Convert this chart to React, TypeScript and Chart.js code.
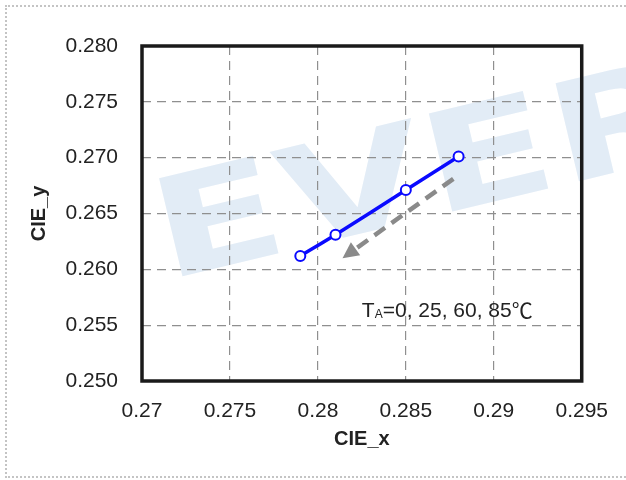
import { useEffect, useRef } from 'react';
import { Chart, registerables } from 'chart.js';

Chart.register(...registerables);

// measured points (CIE_x, CIE_y) for TA = 0, 25, 60, 85 C
const cieX = [0.279, 0.281, 0.285, 0.288];
const cieY = [0.2612, 0.2631, 0.2671, 0.2701];

// trend arrow, start -> tip, in data units
const arrowX = [0.2877, 0.2814];
const arrowY = [0.2681, 0.261];

const xTicks = [0.27, 0.275, 0.28, 0.285, 0.29, 0.295];
const yTicks = [0.25, 0.255, 0.26, 0.265, 0.27, 0.275, 0.28];

const noteAt = [0.2825, 0.2557];
const noteMain = 'T';
const noteSub = 'A';
const noteRest = '=0, 25, 60, 85';
const noteUnit = '℃';

const FONT = '"Liberation Sans", Arial, sans-serif';

const watermark = {
  id: 'watermark',
  beforeDraw(chart: Chart) {
    const ctx = chart.ctx;
    ctx.save();
    ctx.translate(142, 182);
    ctx.rotate(-0.235);
    ctx.scale(1.38, 1);
    ctx.fillStyle = '#e2ecf6';
    ctx.font = `bold 138px "DejaVu Sans", ${FONT}`;
    ctx.textBaseline = 'alphabetic';
    ctx.fillText('EVER', 0, 101);
    ctx.restore();
  }
};

const frame = {
  id: 'frame',
  afterDatasetsDraw(chart: Chart) {
    const { ctx, chartArea: a, scales } = chart;
    const sx = scales.x, sy = scales.y;
    ctx.save();

    // arrow
    const x0 = sx.getPixelForValue(arrowX[0]), y0 = sy.getPixelForValue(arrowY[0]);
    const x1 = sx.getPixelForValue(arrowX[1]), y1 = sy.getPixelForValue(arrowY[1]);
    const len = Math.hypot(x1 - x0, y1 - y0);
    const ux = (x1 - x0) / len, uy = (y1 - y0) / len;
    const head = 16, hw = 8;
    const bx = x1 - ux * head, by = y1 - uy * head;
    ctx.strokeStyle = '#8a8a8a';
    ctx.fillStyle = '#8a8a8a';
    ctx.lineWidth = 4.5;
    ctx.setLineDash([13, 8]);
    ctx.beginPath();
    ctx.moveTo(x0, y0);
    ctx.lineTo(bx, by);
    ctx.stroke();
    ctx.setLineDash([]);
    ctx.beginPath();
    ctx.moveTo(x1, y1);
    ctx.lineTo(bx - uy * hw, by + ux * hw);
    ctx.lineTo(bx + uy * hw, by - ux * hw);
    ctx.closePath();
    ctx.fill();

    // annotation
    let tx = sx.getPixelForValue(noteAt[0]);
    const ty = sy.getPixelForValue(noteAt[1]);
    ctx.fillStyle = '#222';
    ctx.textBaseline = 'alphabetic';
    ctx.textAlign = 'left';
    ctx.font = `21px ${FONT}`;
    ctx.fillText(noteMain, tx, ty);
    tx += ctx.measureText(noteMain).width;
    ctx.font = `12px ${FONT}`;
    ctx.fillText(noteSub, tx, ty + 1);
    tx += ctx.measureText(noteSub).width;
    ctx.font = `21px ${FONT}`;
    ctx.fillText(noteRest, tx, ty);
    tx += ctx.measureText(noteRest).width;
    ctx.font = `21px "Noto Sans CJK SC", ${FONT}`;
    ctx.fillText(noteUnit, tx, ty + 1);

    // plot frame
    ctx.strokeStyle = '#1a1a1a';
    ctx.lineWidth = 3.5;
    ctx.strokeRect(a.left, a.top, a.right - a.left, a.bottom - a.top);
    ctx.restore();
  }
};

export default function App() {
  const canvasRef = useRef<HTMLCanvasElement | null>(null);

  useEffect(() => {
    if (!canvasRef.current) return;
    const grid = {
      color: '#8f8f8f',
      lineWidth: 1.2,
      drawTicks: false
    };
    const chart = new Chart(canvasRef.current, {
      type: 'scatter',
      data: {
        datasets: [
          {
            label: 'CIE',
            data: cieX.map((x, i) => ({ x, y: cieY[i] })),
            showLine: true,
            borderColor: '#0a0aff',
            borderWidth: 3.5,
            tension: 0.3,
            pointRadius: 5,
            pointBorderWidth: 2,
            pointBackgroundColor: '#ffffff',
            pointBorderColor: '#0a0aff'
          }
        ]
      },
      options: {
        responsive: false,
        animation: false,
        layout: { padding: { left: 0, top: 46, right: 44, bottom: 0 } },
        plugins: { legend: { display: false }, tooltip: { enabled: false } },
        scales: {
          x: {
            type: 'linear',
            min: xTicks[0],
            max: xTicks[xTicks.length - 1],
            afterFit: (s: any) => { s.height = 99; },
            afterBuildTicks: (s: any) => { s.ticks = xTicks.map(v => ({ value: v })); },
            ticks: {
              padding: 18,
              color: '#222',
              font: { family: FONT, size: 21 },
              callback: (v: any) => String(Math.round(Number(v) * 1000) / 1000)
            },
            grid,
            border: { display: false, dash: [9, 6] },
            title: {
              display: true,
              text: 'CIE_x',
              color: '#222',
              font: { family: FONT, size: 20, weight: 'bold', lineHeight: 1.2 },
              padding: { top: 0, bottom: 29 }
            }
          },
          y: {
            type: 'linear',
            min: yTicks[0],
            max: yTicks[yTicks.length - 1],
            afterFit: (s: any) => { s.width = 142; },
            afterBuildTicks: (s: any) => { s.ticks = yTicks.map(v => ({ value: v })); },
            ticks: {
              padding: 24,
              color: '#222',
              font: { family: FONT, size: 21 },
              callback: (v: any) => Number(v).toFixed(3)
            },
            grid,
            border: { display: false, dash: [9, 6] },
            title: {
              display: true,
              text: 'CIE_y',
              color: '#222',
              font: { family: FONT, size: 20, weight: 'bold', lineHeight: 1.2 },
              padding: { top: 27, bottom: 0 }
            }
          }
        }
      },
      plugins: [watermark, frame]
    });
    return () => chart.destroy();
  }, []);

  return (
    <div style={{ position: 'absolute', left: 0, top: 0, width: 626, height: 480, overflow: 'hidden', background: '#fff' }}>
      <div style={{ position: 'absolute', left: 5, top: 5, width: 700, height: 469, border: '2px dotted #c4c4c4' }} />
      <canvas ref={canvasRef} width={626} height={480} style={{ position: 'absolute', left: 0, top: 0 }} />
    </div>
  );
}
